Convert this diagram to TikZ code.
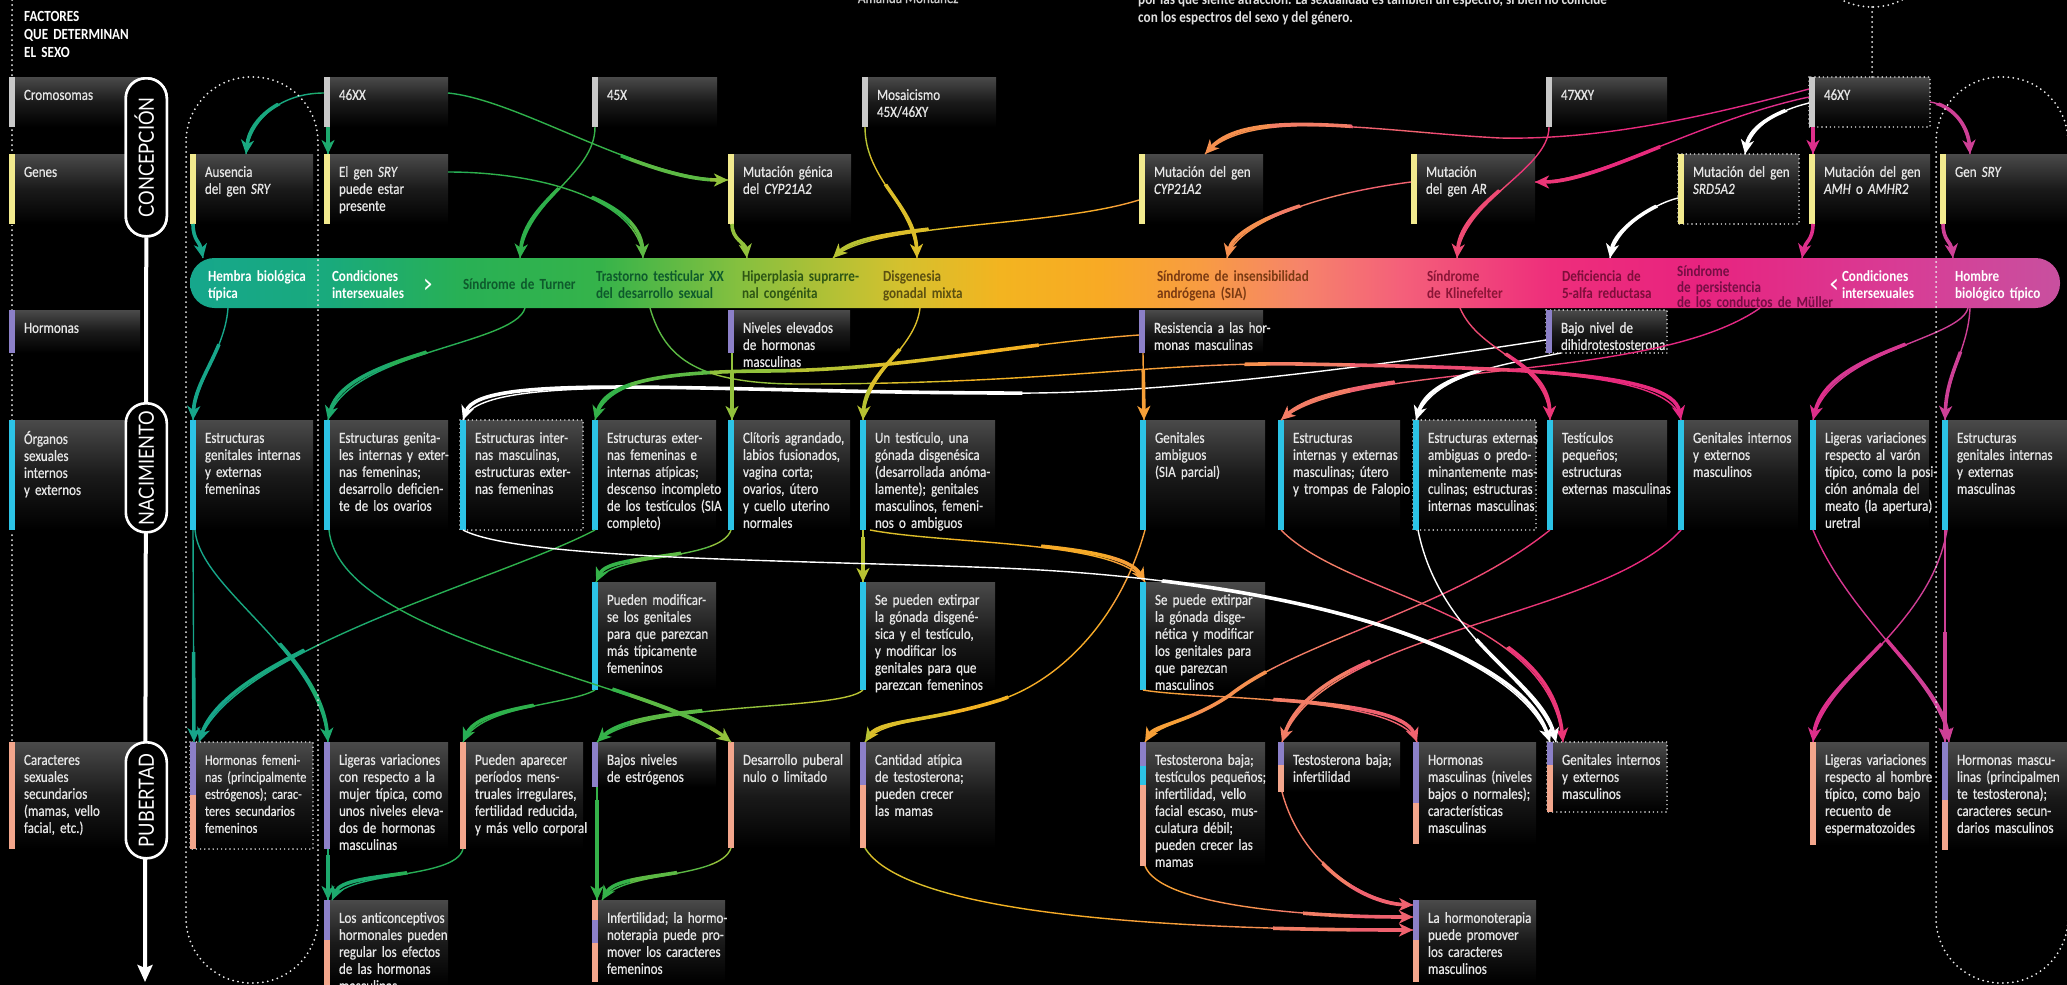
\documentclass[tikz,border=0pt]{standalone}
\usepackage{fontspec}
\setmainfont{Carlito}[FakeStretch=0.85]
\newfontfamily\boxfont{Carlito}[FakeStretch=0.84,FakeBold=0.6]
\newfontfamily\pillfont{Lato}[FakeStretch=0.87]
\newfontfamily\symfont{DejaVu Sans}
\usetikzlibrary{arrows.meta}

\definecolor{boxtop}{HTML}{4A4A4A}
\definecolor{cgray}{HTML}{C9C9C9}
\definecolor{cyel}{HTML}{F2EA8E}
\definecolor{cpur}{HTML}{8C80C8}
\definecolor{ccya}{HTML}{2CC3E6}
\definecolor{csal}{HTML}{F3A68C}
\definecolor{txt}{HTML}{E6E6E6}
\definecolor{dotc}{HTML}{EEEEEE}
\definecolor{b0}{HTML}{16A78C}
\definecolor{b1}{HTML}{19AA7C}
\definecolor{b2}{HTML}{28B055}
\definecolor{b3}{HTML}{35B34A}
\definecolor{b4}{HTML}{86C03F}
\definecolor{b5}{HTML}{D4C12E}
\definecolor{b6}{HTML}{F3B420}
\definecolor{b7}{HTML}{F8AA24}
\definecolor{b8}{HTML}{F89C42}
\definecolor{b9}{HTML}{F6846A}
\definecolor{b10}{HTML}{F4607A}
\definecolor{b11}{HTML}{EE2E7B}
\definecolor{b12}{HTML}{E8237F}
\definecolor{b13}{HTML}{D83C95}
\definecolor{b14}{HTML}{C8509F}
\definecolor{sc0}{HTML}{17A68A}
\definecolor{sc1}{HTML}{19A880}
\definecolor{sc2}{HTML}{1DAA6E}
\definecolor{sc3}{HTML}{27AE55}
\definecolor{sc4}{HTML}{2EB04B}
\definecolor{sc5}{HTML}{35B249}
\definecolor{sc6}{HTML}{5CB944}
\definecolor{sc7}{HTML}{92C13C}
\definecolor{sc8}{HTML}{B8C232}
\definecolor{sc9}{HTML}{DCBE2A}
\definecolor{sc10}{HTML}{F2B222}
\definecolor{sc11}{HTML}{F6AA28}
\definecolor{sc12}{HTML}{F7A038}
\definecolor{sc13}{HTML}{F6904F}
\definecolor{sc14}{HTML}{F37D66}
\definecolor{sc15}{HTML}{F0626F}
\definecolor{sc16}{HTML}{EE4A73}
\definecolor{sc17}{HTML}{EB3677}
\definecolor{sc18}{HTML}{E82A7C}
\definecolor{sc19}{HTML}{E42883}
\definecolor{sc20}{HTML}{DE2F8B}
\definecolor{sc21}{HTML}{D63891}
\definecolor{sc22}{HTML}{CE4096}
\definecolor{sc23}{HTML}{C8489A}
\definecolor{tgreen}{HTML}{0E5A2C}
\definecolor{tolive}{HTML}{2E5614}
\definecolor{tmus}{HTML}{5C5010}
\definecolor{tbrown}{HTML}{7A3A12}
\definecolor{tred}{HTML}{8A1536}
\definecolor{trose}{HTML}{7E0E3A}
\definecolor{tplum}{HTML}{760E44}

\pgfdeclarehorizontalshading{spectrum}{100bp}{color(0bp)=(b0); color(25bp)=(b0); color(28.74bp)=(b1); color(32.22bp)=(b2); color(35.96bp)=(b3); color(39.71bp)=(b4); color(43.98bp)=(b5); color(46.66bp)=(b6); color(49.33bp)=(b7); color(52bp)=(b8); color(54.68bp)=(b9); color(57.35bp)=(b10); color(61.36bp)=(b11); color(65.37bp)=(b12); color(70.72bp)=(b13); color(75bp)=(b14); color(100bp)=(b14)}

\newcommand\tf{\fontsize{15.5}{17}\selectfont}

\tikzset{
 gbox/.style={rectangle,inner sep=0pt,outer sep=0pt,anchor=north west,top color=boxtop,bottom color=black,middle color=boxtop!35!black},
 lbl/.style={anchor=north west,inner sep=0pt,outer sep=0pt,text width=300pt,align=left,text=txt,font=\boxfont\tf},
 bartxt/.style={anchor=north west,inner sep=0pt,outer sep=0pt,text width=300pt,align=left,font=\tf\bfseries},
 dotb/.style={draw=dotc,line width=1.6pt,dash pattern=on 0pt off 4.2pt,line cap=round},
 dotl/.style={draw=dotc,line width=2pt,dash pattern=on 0pt off 5pt,line cap=round},
 thinl/.style={line width=1.4pt},
 thickl/.style={line width=3.6pt,-{Stealth[length=14pt,width=13pt,inset=4pt]}},
 pill/.style={draw=white,fill=black,line width=2.6pt,rounded corners=20pt,minimum width=41pt,inner sep=0pt,anchor=north west},
 ptxt/.style={rotate=90,inner sep=0pt,text=white,font=\pillfont\fontsize{21}{21}\selectfont,text height=15pt,text depth=0pt},
}

\newcommand\bx[6]{\node[gbox,minimum width=#4pt,minimum height=#5pt,#6] (#1) at (#2,#3) {};}
\newcommand\fullbar[2]{\fill[#2] (#1.north west) rectangle ([xshift=6pt]#1.south west);}
\newcommand\seg[4]{\fill[#2] ([yshift=-#3pt]#1.north west) rectangle ([xshift=6pt,yshift=-#4pt]#1.north west);}
\newcommand\lb[2]{\node[lbl] (#1t) at ([xshift=15pt,yshift=-11pt]#1.north west) {\strut #2};}
\newcommand\dbox[1]{\draw[dotb] (#1.north west) rectangle (#1.south east);}

\newcommand\sconn[3][80]{%
  \foreach \k in {0,...,23}{%
    \pgfmathtruncatemacro\sxa{150+80*\k}%
    \edef\scn{sc\k}%
    \begin{scope}
      \clip (\sxa,-20) rectangle ++(80,1030);
      \draw[thinl,draw=\scn] #2 #3;
      \clip #3 circle (#1pt);
      \draw[thickl,draw=\scn] #2 #3;
    \end{scope}}}
\newcommand\wconn[3][80]{%
  \draw[thinl,draw=white] #2 #3;
  \begin{scope}
    \clip #3 circle (#1pt);
    \draw[thickl,draw=white] #2 #3;
  \end{scope}}

\begin{document}
\begin{tikzpicture}[x=1pt,y=-1pt]
\useasboundingbox (0,0) rectangle (2067,985);
\clip (0,0) rectangle (2067,985);
\fill[black] (0,0) rectangle (2067,985);

% left dotted guide
\coordinate (dl0) at (12,0);
\coordinate (dl1) at (12,742);
\draw[dotl] (dl0) -- (dl1);

% header texts
\node[anchor=north west,inner sep=0pt,text width=300pt,align=left,text=white,font=\fontsize{15.5}{18}\selectfont\bfseries] (hdr) at (24,8.4) {\strut FACTORES\\QUE DETERMINAN\\EL SEXO};
\node[anchor=base west,inner sep=0pt,text=white!80!black,font=\boxfont\tf] (auth) at (843,3) {— Amanda Montañez};
\node[anchor=base west,inner sep=0pt,text=white!88!black,font=\tf\bfseries] (par1) at (1138,5) {por las que siente atracción. La sexualidad es también un espectro, si bien no coincide};
\node[anchor=base west,inner sep=0pt,text=white!88!black,font=\tf\bfseries] (par2) at (1138,22) {con los espectros del sexo y del género.};

% left row labels
\bx{lcro}{9}{77}{131}{50}{}\fullbar{lcro}{cgray}\lb{lcro}{Cromosomas}
\bx{lgen}{9}{154}{131}{70}{}\fullbar{lgen}{cyel}\lb{lgen}{Genes}
\bx{lhor}{9}{310}{131}{43}{}\fullbar{lhor}{cpur}\lb{lhor}{Hormonas}
\bx{lorg}{9}{420}{131}{110}{}\fullbar{lorg}{ccya}\lb{lorg}{Órganos\\sexuales\\internos\\y externos}
\bx{lcar}{9}{742}{131}{107}{}\fullbar{lcar}{csal}\lb{lcar}{Caracteres\\sexuales\\secundarios\\(mamas, vello\\facial, etc.)}

% row 1 cromosomas
\bx{c46xx}{324}{77}{124}{50}{}\fullbar{c46xx}{cgray}\lb{c46xx}{46XX}
\bx{c45x}{592}{77}{125}{50}{}\fullbar{c45x}{cgray}\lb{c45x}{45X}
\bx{cmos}{862}{77}{134}{50}{}\fullbar{cmos}{cgray}\lb{cmos}{Mosaicismo\\45X/46XY}
\bx{c47xxy}{1546}{77}{121}{50}{}\fullbar{c47xxy}{cgray}\lb{c47xxy}{47XXY}
\bx{c46xy}{1809}{77}{121}{50}{}\dbox{c46xy}\fullbar{c46xy}{cgray}\lb{c46xy}{46XY}

% row 2 genes
\bx{gaus}{190}{154}{123}{70}{}\fullbar{gaus}{cyel}\lb{gaus}{Ausencia\\del gen \textit{SRY}}
\bx{gsry}{324}{154}{124}{70}{}\fullbar{gsry}{cyel}\lb{gsry}{El gen \textit{SRY}\\puede estar\\presente}
\bx{gcyp1}{728}{154}{123}{70}{}\fullbar{gcyp1}{cyel}\lb{gcyp1}{Mutación génica\\del \textit{CYP21A2}}
\bx{gcyp2}{1139}{154}{124}{70}{}\fullbar{gcyp2}{cyel}\lb{gcyp2}{Mutación del gen\\\textit{CYP21A2}}
\bx{gar}{1411}{154}{124}{70}{}\fullbar{gar}{cyel}\lb{gar}{Mutación\\del gen \textit{AR}}
\bx{gsrd}{1678}{154}{121}{70}{}\dbox{gsrd}\fullbar{gsrd}{cyel}\lb{gsrd}{Mutación del gen\\\textit{SRD5A2}}
\bx{gamh}{1809}{154}{121}{70}{}\fullbar{gamh}{cyel}\lb{gamh}{Mutación del gen\\\textit{AMH} o \textit{AMHR2}}
\bx{ggsry}{1940}{154}{127}{70}{}\fullbar{ggsry}{cyel}\lb{ggsry}{Gen \textit{SRY}}

% row 3 hormonas
\bx{hniv}{728}{310}{122}{43}{}\fullbar{hniv}{cpur}\lb{hniv}{Niveles elevados\\de hormonas\\masculinas}
\bx{hres}{1139}{310}{124}{43}{}\fullbar{hres}{cpur}\lb{hres}{Resistencia a las hor-\\monas masculinas}
\bx{hbajo}{1546}{310}{121}{43}{}\dbox{hbajo}\fullbar{hbajo}{cpur}\lb{hbajo}{Bajo nivel de\\dihidrotestosterona}

% row 4 organos
\bx{o1}{190}{420}{123}{110}{}\fullbar{o1}{ccya}\lb{o1}{Estructuras\\genitales internas\\y externas\\femeninas}
\bx{o2}{324}{420}{124}{110}{}\fullbar{o2}{ccya}\lb{o2}{Estructuras genita-\\les internas y exter-\\nas femeninas;\\desarrollo deficien-\\te de los ovarios}
\bx{o3}{460}{420}{123}{110}{}\dbox{o3}\fullbar{o3}{ccya}\lb{o3}{Estructuras inter-\\nas masculinas,\\estructuras exter-\\nas femeninas}
\bx{o4}{592}{420}{124}{110}{}\fullbar{o4}{ccya}\lb{o4}{Estructuras exter-\\nas femeninas e\\internas atípicas;\\descenso incompleto\\de los testículos (SIA\\completo)}
\bx{o5}{728}{420}{122}{110}{}\fullbar{o5}{ccya}\lb{o5}{Clítoris agrandado,\\labios fusionados,\\vagina corta;\\ovarios, útero\\y cuello uterino\\normales}
\bx{o6}{860}{420}{135}{110}{}\fullbar{o6}{ccya}\lb{o6}{Un testículo, una\\gónada disgenésica\\(desarrollada anóma-\\lamente); genitales\\masculinos, femeni-\\nos o ambiguos}
\bx{o7}{1140}{420}{125}{110}{}\fullbar{o7}{ccya}\lb{o7}{Genitales\\ambiguos\\(SIA parcial)}
\bx{o8}{1278}{420}{122}{110}{}\fullbar{o8}{ccya}\lb{o8}{Estructuras\\internas y externas\\masculinas; útero\\y trompas de Falopio}
\bx{o9}{1413}{420}{123}{110}{}\dbox{o9}\fullbar{o9}{ccya}\lb{o9}{Estructuras externas\\ambiguas o predo-\\minantemente mas-\\culinas; estructuras\\internas masculinas}
\bx{o10}{1547}{420}{120}{110}{}\fullbar{o10}{ccya}\lb{o10}{Testículos\\pequeños;\\estructuras\\externas masculinas}
\bx{o11}{1678}{420}{120}{110}{}\fullbar{o11}{ccya}\lb{o11}{Genitales internos\\y externos\\masculinos}
\bx{o12}{1810}{420}{119}{110}{}\fullbar{o12}{ccya}\lb{o12}{Ligeras variaciones\\respecto al varón\\típico, como la posi-\\ción anómala del\\meato (la apertura)\\uretral}
\bx{o13}{1942}{420}{125}{110}{}\fullbar{o13}{ccya}\lb{o13}{Estructuras\\genitales internas\\y externas\\masculinas}

% row 4b
\bx{s1}{592}{582}{124}{108}{}\fullbar{s1}{ccya}\lb{s1}{Pueden modificar-\\se los genitales\\para que parezcan\\más típicamente\\femeninos}
\bx{s2}{860}{582}{135}{108}{}\fullbar{s2}{ccya}\lb{s2}{Se pueden extirpar\\la gónada disgené-\\sica y el testículo,\\y modificar los\\genitales para que\\parezcan femeninos}
\bx{s3}{1140}{582}{125}{108}{}\fullbar{s3}{ccya}\lb{s3}{Se puede extirpar\\la gónada disge-\\nética y modificar\\los genitales para\\que parezcan\\masculinos}

% row 5 caracteres
\bx{p1}{190}{742}{123}{107}{}\dbox{p1}\seg{p1}{cpur}{0}{53}\seg{p1}{csal}{53}{107}\lb{p1}{\fontsize{14.6}{17}\selectfont Hormonas femeni-\\nas (principalmente\\estrógenos); carac-\\teres secundarios\\femeninos}
\bx{p2}{324}{742}{124}{107}{}\fullbar{p2}{cpur}\lb{p2}{Ligeras variaciones\\con respecto a la\\mujer típica, como\\unos niveles eleva-\\dos de hormonas\\masculinas}
\bx{p3}{460}{742}{123}{107}{}\fullbar{p3}{csal}\lb{p3}{Pueden aparecer\\períodos mens-\\truales irregulares,\\fertilidad reducida,\\y más vello corporal}
\bx{p4}{592}{742}{124}{45}{}\fullbar{p4}{cpur}\lb{p4}{Bajos niveles\\de estrógenos}
\bx{p5}{728}{742}{122}{106}{}\fullbar{p5}{csal}\lb{p5}{Desarrollo puberal\\nulo o limitado}
\bx{p6}{860}{742}{135}{106}{}\seg{p6}{cpur}{0}{43}\seg{p6}{csal}{43}{106}\lb{p6}{Cantidad atípica\\de testosterona;\\pueden crecer\\las mamas}
\bx{p7}{1140}{742}{125}{124}{}\seg{p7}{cpur}{0}{24}\seg{p7}{ccya}{24}{43}\seg{p7}{csal}{43}{124}\lb{p7}{Testosterona baja;\\testículos pequeños;\\infertilidad, vello\\facial escaso, mus-\\culatura débil;\\pueden crecer las\\mamas}
\bx{p8}{1278}{742}{122}{50}{}\seg{p8}{cpur}{0}{23}\seg{p8}{csal}{23}{50}\lb{p8}{Testosterona baja;\\infertilidad}
\bx{p9}{1413}{742}{123}{102}{}\seg{p9}{cpur}{0}{61}\seg{p9}{csal}{61}{102}\lb{p9}{Hormonas\\masculinas (niveles\\bajos o normales);\\características\\masculinas}
\bx{p10}{1547}{742}{120}{70}{}\dbox{p10}\seg{p10}{cpur}{0}{23}\seg{p10}{csal}{23}{70}\lb{p10}{Genitales internos\\y externos\\masculinos}
\bx{p11}{1810}{742}{119}{103}{}\fullbar{p11}{csal}\lb{p11}{Ligeras variaciones\\respecto al hombre\\típico, como bajo\\recuento de\\espermatozoides}
\bx{p12}{1942}{742}{125}{108}{}\seg{p12}{cpur}{0}{58}\seg{p12}{csal}{58}{108}\lb{p12}{Hormonas mascu-\\linas (principalmen\\te testosterona);\\caracteres secun-\\darios masculinos}

% row 6
\bx{t1}{324}{900}{124}{85}{}\seg{t1}{cpur}{0}{40}\seg{t1}{csal}{40}{85}\lb{t1}{Los anticonceptivos\\hormonales pueden\\regular los efectos\\de las hormonas\\masculinas}
\bx{t2}{592}{900}{133}{82}{}\seg{t2}{csal}{0}{20}\seg{t2}{cpur}{20}{43}\seg{t2}{csal}{43}{82}\lb{t2}{Infertilidad; la hormo-\\noterapia puede pro-\\mover los caracteres\\femeninos}
\bx{t3}{1413}{900}{123}{82}{}\seg{t3}{cpur}{0}{40}\seg{t3}{csal}{40}{82}\lb{t3}{La hormonoterapia\\puede promover\\los caracteres\\masculinos}

% spectrum bar
\node[shade,shading=spectrum,rounded corners=24.5pt,minimum width=1870pt,minimum height=50pt,inner sep=0pt,outer sep=0pt,anchor=north west] (bar) at (190,258) {};
\node[bartxt,text=white] (bt1) at (208,269.1) {\strut Hembra biológica\\típica};
\node[bartxt,text=white] (bt2) at (332,269.1) {\strut Condiciones\\intersexuales};
\node[anchor=base,inner sep=0pt,text=white,font=\symfont\fontsize{26}{26}\selectfont] (chev1) at (428,292) {›};
\node[bartxt,text=tgreen] (bt3) at (463,277.1) {\strut Síndrome de Turner};
\node[bartxt,text=tgreen] (bt4) at (596,269.1) {\strut Trastorno testicular XX\\del desarrollo sexual};
\node[bartxt,text=tolive] (bt5) at (742,269.1) {\strut Hiperplasia suprarre-\\nal congénita};
\node[bartxt,text=tmus] (bt6) at (883,269.1) {\strut Disgenesia\\gonadal mixta};
\node[bartxt,text=tbrown] (bt7) at (1157,269.1) {\strut Síndrome de insensibilidad\\andrógena (SIA)};
\node[bartxt,text=tred] (bt8) at (1427,269.1) {\strut Síndrome\\de Klinefelter};
\node[bartxt,text=trose] (bt9) at (1562,269.1) {\strut Deficiencia de\\5-alfa reductasa};
\node[bartxt,text=tplum,font=\fontsize{15.5}{15}\selectfont\bfseries] (bt10) at (1677,265.5) {\strut Síndrome\\de persistencia\\de los conductos de Müller};
\node[anchor=base,inner sep=0pt,text=white,font=\symfont\fontsize{26}{26}\selectfont] (chev2) at (1834,292) {‹};
\node[bartxt,text=white] (bt11) at (1842,269.1) {\strut Condiciones\\intersexuales};
\node[bartxt,text=white] (bt12) at (1955,269.1) {\strut Hombre\\biológico típico};

% ---------- connectors ----------
% conception
\sconn[60]{([yshift=-16pt]c46xx.north west) .. controls (282,93) and (250,118) ..}{([xshift=56pt]gaus.north west)}
\sconn[40]{([xshift=4pt]c46xx.south west) --}{([xshift=4pt]gsry.north west)}
\sconn[110]{([yshift=-16pt]c46xx.north east) .. controls (520,100) and (640,180) ..}{([yshift=-26pt]gcyp1.north west)}
\sconn[80]{([yshift=-18pt]gsry.north east) .. controls (540,172) and (640,200) ..}{([xshift=453pt]bar.north west)}
\sconn[80]{([xshift=3pt]c45x.south west) .. controls (595,175) and (525,200) ..}{([xshift=330pt]bar.north west)}
\sconn[80]{([xshift=3pt]cmos.south west) .. controls (865,180) and (915,205) ..}{([xshift=727pt]bar.north west)}
\sconn[40]{([xshift=4pt]gcyp1.south west) .. controls (732,240) and (745,242) ..}{([xshift=557pt]bar.north west)}
\sconn[100]{([yshift=-46pt]gcyp2.north west) .. controls (1050,228) and (870,222) ..}{([xshift=643pt]bar.north west)}
\sconn[150]{([yshift=-12pt]c46xy.north west) .. controls (1700,118) and (1600,140) .. (1500,138) .. controls (1380,132) and (1250,106) ..}{([xshift=66pt]gcyp2.north west)}
\sconn[130]{([yshift=-20pt]c46xy.north west) .. controls (1700,120) and (1600,182) ..}{([yshift=-28pt]gar.north east)}
\sconn[80]{([xshift=3pt]c47xxy.south west) .. controls (1549,170) and (1462,200) ..}{([xshift=1267pt]bar.north west)}
\sconn[90]{([yshift=-28pt]gar.north west) .. controls (1310,195) and (1235,225) ..}{([xshift=1037pt]bar.north west)}
\wconn[60]{([yshift=-26pt]c46xy.north west) .. controls (1780,110) and (1750,125) ..}{([xshift=67pt]gsrd.north west)}
\sconn[40]{([xshift=4pt]c46xy.south west) --}{([xshift=4pt]gamh.north west)}
\sconn[60]{([yshift=-25pt]c46xy.north east) .. controls (1952,105) and (1968,125) ..}{([xshift=30pt]ggsry.north west)}
\wconn[70]{([yshift=-44pt]gsrd.north west) .. controls (1650,205) and (1615,230) ..}{([xshift=1420pt]bar.north west)}
\sconn[40]{([xshift=4pt]gamh.south west) .. controls (1813,240) and (1805,242) ..}{([xshift=1612pt]bar.north west)}
\sconn[40]{([xshift=3pt]ggsry.south west) .. controls (1943,240) and (1951,242) ..}{([xshift=1763pt]bar.north west)}
\sconn[40]{([xshift=3pt]gaus.south west) .. controls (193,240) and (200,242) ..}{([xshift=13pt]bar.north west)}
% birth
\sconn[80]{([xshift=38pt]bar.south west) .. controls (225,350) and (195,380) ..}{([xshift=3pt]o1.north west)}
\sconn[120]{([xshift=335pt]bar.south west) .. controls (515,345) and (345,352) ..}{([xshift=4pt]o2.north west)}
\wconn[560]{([yshift=-30pt]hbajo.north west) .. controls (1350,370) and (1150,395) .. (1000,393) .. controls (700,392) and (480,372) ..}{([xshift=3pt]o3.north west)}
\sconn[450]{([yshift=-25pt]hres.north west) .. controls (1000,345) and (900,371) .. (760,371) .. controls (650,372) and (605,385) ..}{([xshift=3pt]o4.north west)}
\sconn[50]{([xshift=4pt]hniv.south west) --}{([xshift=4pt]o5.north west)}
\sconn[80]{([xshift=730pt]bar.south west) .. controls (915,350) and (866,370) ..}{([xshift=3pt]o6.north west)}
\sconn[50]{([xshift=4pt]hres.south west) --}{([xshift=4pt]o7.north west)}
\sconn[120]{([xshift=1570pt]bar.south west) .. controls (1650,385) and (1350,360) ..}{([xshift=3pt]o8.north west)}
\wconn[80]{([xshift=15pt]hbajo.south west) .. controls (1500,365) and (1430,375) ..}{([xshift=3pt]o9.north west)}
\sconn[80]{([xshift=1270pt]bar.south west) .. controls (1480,355) and (1548,360) ..}{([xshift=3pt]o10.north west)}
\sconn[440]{([xshift=460pt]bar.south west) .. controls (665,360) and (700,384) .. (800,384) .. controls (1050,384) and (1150,362) .. (1300,364) .. controls (1520,368) and (1672,372) ..}{([xshift=3pt]o11.north west)}
\sconn[120]{([xshift=1778pt]bar.south west) .. controls (1960,340) and (1830,350) ..}{([xshift=3pt]o12.north west)}
\sconn[70]{([xshift=1780pt]bar.south west) .. controls (1968,350) and (1947,370) ..}{([xshift=3pt]o13.north west)}
\sconn[90]{([xshift=3pt]o5.south west) .. controls (720,562) and (610,552) ..}{([xshift=4pt]s1.north west)}
\sconn[45]{([xshift=3pt]o6.south west) --}{([xshift=3pt]s2.north west)}
\sconn[110]{([xshift=10pt]o6.south west) .. controls (950,545) and (1120,540) ..}{([xshift=5pt]s3.north west)}
% puberty
\sconn[90]{([xshift=3pt]o1.south west) --}{([xshift=4pt]p1.north west)}
\sconn[110]{([xshift=5pt]o1.south west) .. controls (200,590) and (320,650) ..}{([xshift=4pt]p2.north west)}
\sconn[140]{([xshift=3pt]o4.south west) .. controls (500,580) and (230,650) ..}{([xshift=9pt]p1.north west)}
\sconn[130]{([xshift=5pt]o2.south west) .. controls (340,640) and (650,680) ..}{([xshift=3pt]p5.north west)}
\sconn[80]{([xshift=3pt]s1.south west) .. controls (570,705) and (480,705) ..}{([xshift=3pt]p3.north west)}
\sconn[110]{([xshift=3pt]s2.south west) .. controls (840,712) and (640,700) ..}{([xshift=5pt]p4.north west)}
\sconn[150]{([xshift=5pt]o7.south west) .. controls (1120,620) and (1060,680) .. (1000,700) .. controls (930,722) and (880,720) ..}{([xshift=5pt]p6.north west)}
\sconn[150]{([xshift=3pt]s3.south west) .. controls (1200,700) and (1400,695) ..}{([xshift=4pt]p9.north west)}
\sconn[140]{([xshift=3pt]o10.south west) .. controls (1450,610) and (1300,640) .. (1230,695) .. controls (1190,722) and (1155,725) ..}{([xshift=5pt]p7.north west)}
\sconn[120]{([xshift=3pt]o11.south west) .. controls (1600,620) and (1320,630) ..}{([xshift=4pt]p8.north west)}
\sconn[110]{([xshift=3pt]o8.south west) .. controls (1350,600) and (1550,610) ..}{([xshift=16pt]p10.north west)}
\wconn[420]{([xshift=3pt]o3.south west) .. controls (520,560) and (800,560) .. (1000,568) .. controls (1300,580) and (1520,650) ..}{([xshift=3pt]p10.north west)}
\wconn[130]{([xshift=5pt]o9.south west) .. controls (1440,640) and (1540,680) ..}{([xshift=9pt]p10.north west)}
\sconn[120]{([xshift=3pt]o12.south west) .. controls (1850,620) and (1940,680) ..}{([xshift=7pt]p12.north west)}
\sconn[110]{([xshift=3pt]o13.south west) --}{([xshift=3pt]p12.north west)}
\sconn[120]{([xshift=5pt]o13.south west) .. controls (1930,630) and (1820,680) ..}{([xshift=3pt]p11.north west)}
% after puberty
\sconn[45]{([xshift=4pt]p2.south west) --}{([xshift=4pt]t1.north west)}
\sconn[80]{([xshift=3pt]p3.south west) .. controls (455,880) and (345,870) ..}{([xshift=8pt]t1.north west)}
\sconn[100]{([xshift=5pt]p4.south west) --}{([xshift=5pt]t2.north west)}
\sconn[80]{([xshift=3pt]p5.south west) .. controls (720,880) and (620,870) ..}{([xshift=10pt]t2.north west)}
\sconn[140]{([xshift=5pt]p6.south west) .. controls (900,905) and (1100,930) ..}{([yshift=-30pt]t3.north west)}
\sconn[110]{([xshift=5pt]p7.south west) .. controls (1160,905) and (1300,917) ..}{([yshift=-17pt]t3.north west)}
\sconn[100]{([xshift=4pt]p8.south west) .. controls (1300,860) and (1360,903) ..}{([yshift=-5pt]t3.north west)}

% dotted enclosures
\draw[dotl,rounded corners=65pt] (186,77) rectangle (318,983);
\draw[dotl,rounded corners=65pt] (1936,77) rectangle (2068,983);
\draw[dotl] (1872,-38) ellipse [x radius=56pt, y radius=45pt];
\coordinate (ell) at (1872,7);
\draw[dotl] (ell) -- ([xshift=63pt]c46xy.north west);

% timeline
\node[pill,minimum height=158pt] (pcon) at (124.5,77) {};
\coordinate (tend) at (145,982);
\draw[white,line width=4pt,-{Stealth[length=17pt,width=15pt,inset=3pt]}] (pcon.south) -- (tend);
\node[pill,minimum height=158pt] (pcon2) at (124.5,77) {};
\node[pill,minimum height=129pt] (pnac) at (124.5,402) {};
\node[pill,minimum height=116pt] (ppub) at (124.5,741) {};
\node[ptxt] (tcon) at (pcon2.center) {CONCEPCIÓN};
\node[ptxt] (tnac) at (pnac.center) {NACIMIENTO};
\node[ptxt] (tpub) at (ppub.center) {PUBERTAD};
\end{tikzpicture}
\end{document}
